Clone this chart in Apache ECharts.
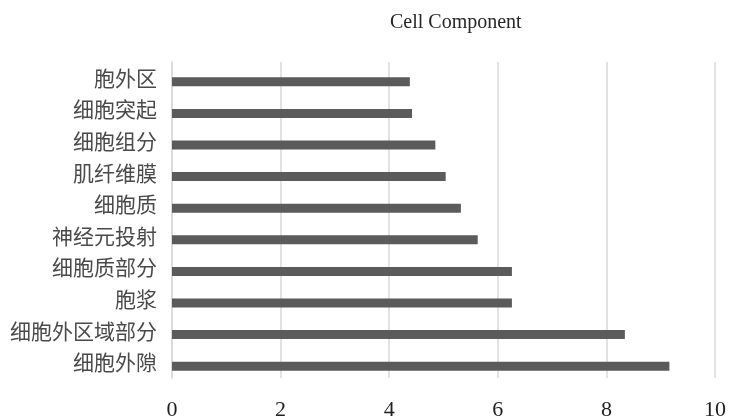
<!DOCTYPE html>
<html>
<head>
<meta charset="utf-8">
<script src="https://cdn.jsdelivr.net/npm/echarts@6/dist/echarts.min.js"></script>
<style>
html,body{margin:0;padding:0;background:#fff;}
#chart{width:729px;height:419px;}
</style>
</head>
<body>
<div id="chart"></div>
<script>
const titleText = 'Cell Component';
const categories = ['胞外区','细胞突起','细胞组分','肌纤维膜','细胞质','神经元投射','细胞质部分','胞浆','细胞外区域部分','细胞外隙'];
const values = [4.38, 4.42, 4.85, 5.04, 5.32, 5.63, 6.26, 6.26, 8.34, 9.16];
const xTicks = [0, 2, 4, 6, 8, 10];

const chart = echarts.init(document.getElementById('chart'), null, {renderer:'canvas'});
chart.setOption({
  animation: false,
  backgroundColor: '#ffffff',
  title: {
    text: titleText,
    left: 385,
    top: 8,
    textStyle: {fontFamily: 'Liberation Serif', fontSize: 20, fontWeight: 'normal', color: '#262626'}
  },
  grid: {left: 172, right: 14, top: 62, bottom: 41, containLabel: false, outerBoundsMode: 'none'},
  xAxis: {
    type: 'value',
    min: xTicks[0],
    max: xTicks[xTicks.length - 1],
    interval: xTicks[1] - xTicks[0],
    axisLine: {show: false},
    axisTick: {show: false},
    splitLine: {show: true, lineStyle: {color: '#d9d9d9', width: 1.5}},
    axisLabel: {margin: 21, fontFamily: 'Liberation Serif', fontSize: 22, color: '#1f1f1f'}
  },
  yAxis: {
    type: 'category',
    data: categories,
    inverse: true,
    axisLine: {show: true, lineStyle: {color: '#d9d9d9', width: 1.5}},
    axisTick: {show: false},
    axisLabel: {margin: 15, fontFamily: 'Noto Sans CJK SC', fontSize: 21, color: '#4a4a4a'}
  },
  series: [
    {type: 'bar', name: 'spacer', data: [], barWidth: 8, barGap: '0%', silent: true},
    {type: 'bar', name: 'Cell Component', data: values, barWidth: 9, barGap: '0%',
     itemStyle: {color: '#5b5b5b'}}
  ]
});
</script>
</body>
</html>
